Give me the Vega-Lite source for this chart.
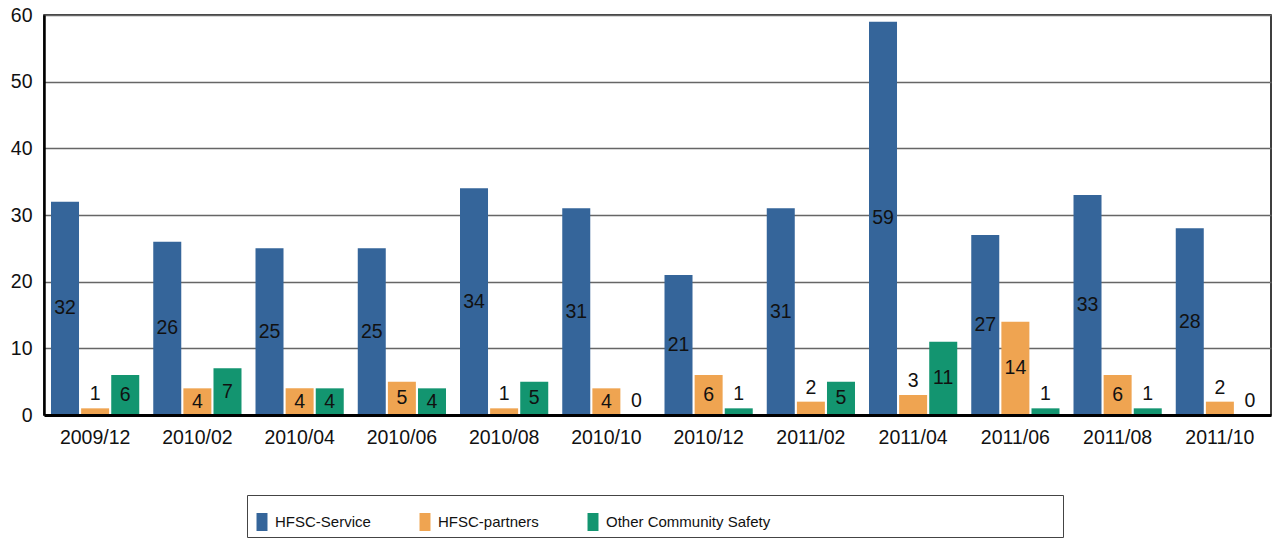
{
  "$schema": "https://vega.github.io/schema/vega-lite/v6.json",
  "width": 1227,
  "height": 400,
  "autosize": {"type": "none"},
  "padding": {"left": 44, "top": 15, "right": 7, "bottom": 128},
  "background": "white",
  "config": {
    "view": {"stroke": "#000000", "strokeWidth": 1.5},
    "font": "Arial, Liberation Sans, sans-serif"
  },
  "data": {
    "values": [
      {"month": "2009/12", "series": "HFSC-Service", "value": 32},
      {"month": "2009/12", "series": "HFSC-partners", "value": 1},
      {"month": "2009/12", "series": "Other Community Safety", "value": 6},
      {"month": "2010/02", "series": "HFSC-Service", "value": 26},
      {"month": "2010/02", "series": "HFSC-partners", "value": 4},
      {"month": "2010/02", "series": "Other Community Safety", "value": 7},
      {"month": "2010/04", "series": "HFSC-Service", "value": 25},
      {"month": "2010/04", "series": "HFSC-partners", "value": 4},
      {"month": "2010/04", "series": "Other Community Safety", "value": 4},
      {"month": "2010/06", "series": "HFSC-Service", "value": 25},
      {"month": "2010/06", "series": "HFSC-partners", "value": 5},
      {"month": "2010/06", "series": "Other Community Safety", "value": 4},
      {"month": "2010/08", "series": "HFSC-Service", "value": 34},
      {"month": "2010/08", "series": "HFSC-partners", "value": 1},
      {"month": "2010/08", "series": "Other Community Safety", "value": 5},
      {"month": "2010/10", "series": "HFSC-Service", "value": 31},
      {"month": "2010/10", "series": "HFSC-partners", "value": 4},
      {"month": "2010/10", "series": "Other Community Safety", "value": 0},
      {"month": "2010/12", "series": "HFSC-Service", "value": 21},
      {"month": "2010/12", "series": "HFSC-partners", "value": 6},
      {"month": "2010/12", "series": "Other Community Safety", "value": 1},
      {"month": "2011/02", "series": "HFSC-Service", "value": 31},
      {"month": "2011/02", "series": "HFSC-partners", "value": 2},
      {"month": "2011/02", "series": "Other Community Safety", "value": 5},
      {"month": "2011/04", "series": "HFSC-Service", "value": 59},
      {"month": "2011/04", "series": "HFSC-partners", "value": 3},
      {"month": "2011/04", "series": "Other Community Safety", "value": 11},
      {"month": "2011/06", "series": "HFSC-Service", "value": 27},
      {"month": "2011/06", "series": "HFSC-partners", "value": 14},
      {"month": "2011/06", "series": "Other Community Safety", "value": 1},
      {"month": "2011/08", "series": "HFSC-Service", "value": 33},
      {"month": "2011/08", "series": "HFSC-partners", "value": 6},
      {"month": "2011/08", "series": "Other Community Safety", "value": 1},
      {"month": "2011/10", "series": "HFSC-Service", "value": 28},
      {"month": "2011/10", "series": "HFSC-partners", "value": 2},
      {"month": "2011/10", "series": "Other Community Safety", "value": 0}
    ]
  },
  "encoding": {
    "x": {
      "field": "month",
      "type": "nominal",
      "sort": null,
      "scale": {"paddingInner": 0.137, "paddingOuter": 0.0685},
      "axis": {
        "title": null,
        "labelAngle": 0,
        "ticks": false,
        "labelPadding": 13,
        "labelFont": "Arial, Liberation Sans, sans-serif",
        "labelFontSize": 19.5,
        "labelColor": "#111111",
        "domainColor": "#000000",
        "domainWidth": 3,
        "zindex": 2
      }
    },
    "xOffset": {
      "field": "series",
      "type": "nominal",
      "scale": {
        "domain": ["HFSC-Service", "HFSC-partners", "Other Community Safety"],
        "paddingInner": 0.07,
        "paddingOuter": 0
      }
    }
  },
  "layer": [
    {
      "mark": {"type": "bar"},
      "encoding": {
        "y": {
          "field": "value",
          "type": "quantitative",
          "scale": {"domain": [0, 60], "nice": false},
          "axis": {
            "title": null,
            "values": [0, 10, 20, 30, 40, 50, 60],
            "ticks": false,
            "labelPadding": 12,
            "labelFont": "Arial, Liberation Sans, sans-serif",
            "labelFontSize": 19.5,
            "labelColor": "#111111",
            "domainColor": "#000000",
            "domainWidth": 2.5,
            "gridColor": "#666666",
            "gridWidth": 1.5,
            "zindex": 0
          }
        },
        "color": {
          "field": "series",
          "type": "nominal",
          "scale": {
            "domain": ["HFSC-Service", "HFSC-partners", "Other Community Safety"],
            "range": ["#35659A", "#EFA451", "#139570"]
          },
          "legend": {
            "title": " ",
            "titleFontSize": 8,
            "titlePadding": 4,
            "orient": "none",
            "legendX": 203,
            "legendY": 480,
            "direction": "horizontal",
            "columns": 3,
            "gridAlign": "each",
            "symbolType": "M-0.61,-1H0.61V1H-0.61Z",
            "symbolSize": 324,
            "symbolStrokeWidth": 0,
            "labelFont": "Arial, Liberation Sans, sans-serif",
            "labelFontSize": 15,
            "labelColor": "#111111",
            "labelOffset": 4,
            "labelExpr": "datum.label == 'Other Community Safety' ? pad(datum.label, 48, '\u2800') : datum.label",
            "columnPadding": 45,
            "padding": 6,
            "strokeColor": "#444444",
            "fillColor": "#ffffff",
            "labelLimit": 700
          }
        }
      }
    },
    {
      "transform": [{"filter": "datum.value >= 4"}],
      "mark": {"type": "text", "fontSize": 19.5, "font": "Arial, Liberation Sans, sans-serif", "color": "#111111", "baseline": "middle"},
      "encoding": {
        "y": {
          "field": "value",
          "type": "quantitative",
          "scale": {"domain": [0, 120], "nice": false},
          "axis": null
        },
        "text": {"field": "value", "type": "quantitative"}
      }
    },
    {
      "transform": [{"filter": "datum.value < 4"}],
      "mark": {"type": "text", "fontSize": 19.5, "font": "Arial, Liberation Sans, sans-serif", "color": "#111111", "baseline": "middle", "dy": -14},
      "encoding": {
        "y": {
          "field": "value",
          "type": "quantitative",
          "scale": {"domain": [0, 60], "nice": false},
          "axis": null
        },
        "text": {"field": "value", "type": "quantitative"}
      }
    }
  ],
  "resolve": {"scale": {"y": "independent"}}
}
